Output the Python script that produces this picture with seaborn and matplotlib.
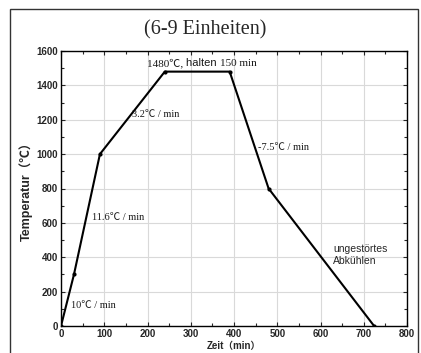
import matplotlib
matplotlib.use("Agg")
import matplotlib.pyplot as plt
import seaborn as sns
import pandas as pd
from matplotlib.ticker import MultipleLocator
from matplotlib.patches import Rectangle

zeit = [0, 30, 90, 240, 390, 480, 724]
temperatur = [0, 300, 1000, 1480, 1480, 800, 0]

rate_labels = ["10℃ / min", "11.6℃ / min", "3.2℃ / min", "-7.5℃ / min"]
rate_x = [23, 71, 164, 455]
rate_y = [122, 632, 1232, 1038]
hold_parts = ["1480℃, ", "halten ", "150 min"]
hold_x, hold_y = 199, 1510
cool_label = "ungestörtes\nAbkühlen"
cool_x, cool_y = 630, 412

df = pd.DataFrame({"Zeit": zeit, "Temperatur": temperatur})

sns.set_style("ticks")
SERIF = ["Liberation Serif", "Noto Sans CJK SC"]
SANS = ["Liberation Sans", "Noto Sans CJK SC"]
plt.rcParams["font.family"] = SANS

fig = plt.figure(figsize=(4.21, 3.53), dpi=100)
ax = fig.add_axes([61/421, 1-326/353, (407-61)/421, (326-51)/353])

sns.lineplot(data=df, x="Zeit", y="Temperatur", sort=False, ax=ax, color="black",
             linewidth=1.5, marker="o", markersize=3, markeredgewidth=0)

ax.set_xlim(0, 800)
ax.set_ylim(0, 1600)
ax.xaxis.set_major_locator(MultipleLocator(100))
ax.xaxis.set_minor_locator(MultipleLocator(50))
ax.yaxis.set_major_locator(MultipleLocator(200))
ax.yaxis.set_minor_locator(MultipleLocator(100))
ax.grid(True, which="major", color="#d9d9d9", linewidth=0.8)
ax.tick_params(which="both", direction="in", top=True, right=True, labelsize=7, width=0.8, pad=2)
ax.tick_params(which="major", length=3)
ax.tick_params(which="minor", length=2)
for lab in ax.get_xticklabels() + ax.get_yticklabels():
    lab.set_fontweight("bold")
for s in ax.spines.values():
    s.set_linewidth(1.0)
    s.set_color("black")

ax.set_xlabel("Zeit（min）", fontsize=7, fontweight="bold", family=SANS, labelpad=1.5)
ax.set_ylabel("Temperatur（℃）", fontsize=9, fontweight="bold", family=SANS, labelpad=3)

for t, x, y in zip(rate_labels, rate_x, rate_y):
    ax.text(x, y, t, fontsize=7.5, family=SERIF, ha="left", va="center", color="#1a1a1a")

t1 = ax.text(hold_x, hold_y, hold_parts[0], fontsize=8, family=SERIF, ha="left", va="baseline", color="#1a1a1a")
t2 = ax.annotate(hold_parts[1], xy=(1, 0), xycoords=t1, fontsize=8, family=SANS, ha="left", va="bottom", color="#1a1a1a")
t3 = ax.annotate(hold_parts[2], xy=(1, 0), xycoords=t2, fontsize=8, family=SERIF, ha="left", va="bottom", color="#1a1a1a")

ax.text(cool_x, cool_y, cool_label, fontsize=7.5, family=SANS, ha="left", va="center", linespacing=1.3)

fig.text(205/421, 1-30/353, "(6-9 Einheiten)", fontsize=14.5, family=SERIF, ha="center", va="center")

fig.patches.append(Rectangle((10/421, -0.1), (418-10)/421, 1.1-9/353, transform=fig.transFigure,
                             fill=False, edgecolor="#333333", linewidth=1.0))

fig.savefig("out.png", dpi=100)
